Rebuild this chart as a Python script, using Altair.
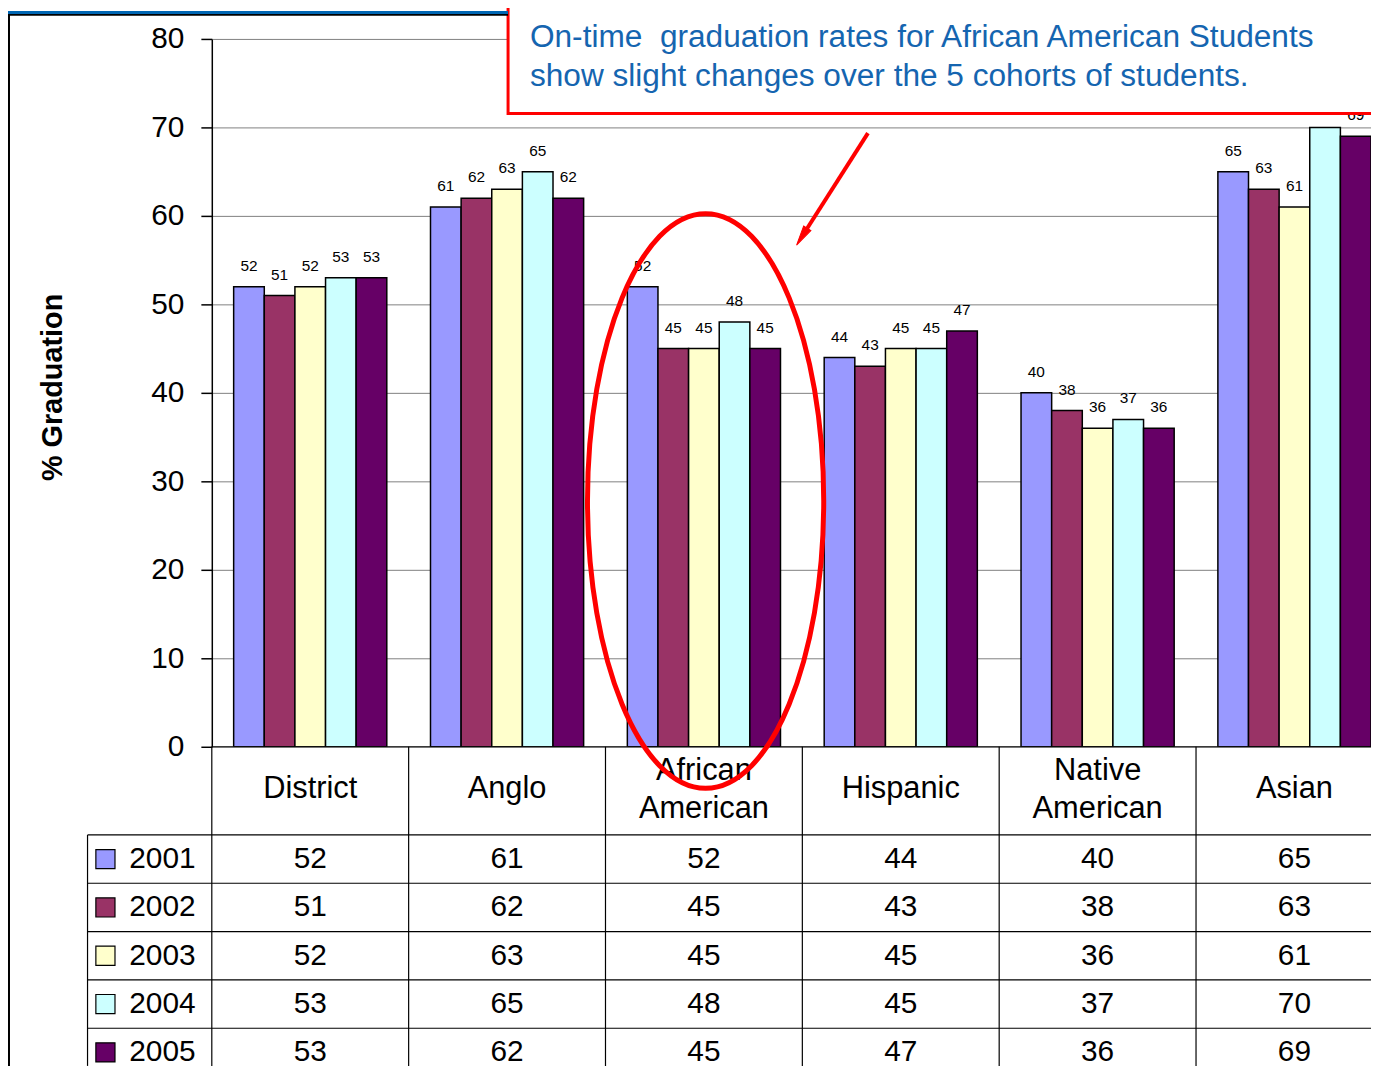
import altair as alt
import pandas as pd

# ---------------- data ----------------
categories = ["District", "Anglo", "African American", "Hispanic", "Native American", "Asian"]
header_labels = ["District", "Anglo", "African\nAmerican", "Hispanic", "Native\nAmerican", "Asian"]
years = ["2001", "2002", "2003", "2004", "2005"]
rates_2001 = [52, 61, 52, 44, 40, 65]
rates_2002 = [51, 62, 45, 43, 38, 63]
rates_2003 = [52, 63, 45, 45, 36, 61]
rates_2004 = [53, 65, 48, 45, 37, 70]
rates_2005 = [53, 62, 45, 47, 36, 69]
year_colors = ["#9999FF", "#993366", "#FFFFCC", "#CCFFFF", "#660066"]
y_ticks = [0, 10, 20, 30, 40, 50, 60, 70, 80]
axis_title = "% Graduation"
note_lines = [
    "On-time\u00a0 graduation rates for African American Students",
    "show slight changes over the 5 cohorts of students.",
]

series = [rates_2001, rates_2002, rates_2003, rates_2004, rates_2005]
rows = []
for yr, vals in zip(years, series):
    for cat, v in zip(categories, vals):
        rows.append({"category": cat, "year": yr, "rate": v})
df = pd.DataFrame(rows)
df_header = pd.DataFrame({"category": categories, "label": header_labels})
one = pd.DataFrame({"k": [0]})

# ---------------- layout ----------------
FONT = "Liberation Sans"
PAD_L, PAD_T, PAD_B = 205, 28, 321
PLOT_W, PLOT_H = 1166, 712
X_SPAN = 1188
STEP = X_SPAN / len(categories)
HEADER_Y = 755
ROW_TOP = 800.7
ROW_H = 48.6
ROW_C = [ROW_TOP + ROW_H * (i + 0.5) for i in range(len(years))]
BOTTOM = PLOT_H + PAD_B

x_enc = alt.X(
    "category:N",
    scale=alt.Scale(domain=categories, range=[0, X_SPAN], paddingInner=0.222, paddingOuter=0.111),
    axis=None,
)
xoff_enc = alt.XOffset("year:N", scale=alt.Scale(domain=years, paddingInner=0, paddingOuter=0))
color_enc = alt.Color("year:N", scale=alt.Scale(domain=years, range=year_colors), legend=None)
y_enc = alt.Y(
    "rate:Q",
    scale=alt.Scale(domain=[0, 80], nice=False, zero=True),
    axis=alt.Axis(
        values=y_ticks,
        title=axis_title,
        titleFont=FONT,
        titleFontSize=29,
        titleFontWeight="bold",
        titleColor="black",
        titleAngle=270,
        titleX=-151,
        titleY=350,
        titleAlign="center",
        titleBaseline="alphabetic",
        labelFont=FONT,
        labelFontSize=30,
        labelColor="black",
        labelPadding=17,
        labelFlush=False,
        tickSize=11,
        tickColor="black",
        tickWidth=1.5,
        domainColor="black",
        domainWidth=1.5,
        grid=True,
        gridColor="#808080",
        gridWidth=1,
    ),
)

layers = []

# bars
layers.append(
    alt.Chart(df).mark_bar(stroke="black", strokeWidth=1.5, clip=True).encode(
        x=x_enc, xOffset=xoff_enc, y=y_enc, color=color_enc
    )
)
# bar value labels
layers.append(
    alt.Chart(df).mark_text(font=FONT, fontSize=15.5, baseline="alphabetic", dy=-16, color="black", clip=True).encode(
        x=x_enc, xOffset=xoff_enc, y=y_enc, text="rate:Q"
    )
)

# table lines
hlines = [(0, PLOT_W, PLOT_H)] + [(-125, PLOT_W, ROW_TOP + ROW_H * i) for i in range(len(years))]
for x1, x2, yy in hlines:
    layers.append(
        alt.Chart(one).mark_rule(color="black", strokeWidth=1.2).encode(
            x=alt.value(x1), x2=alt.value(x2), y=alt.value(yy), y2=alt.value(yy)
        )
    )
vlines = [(-125, ROW_TOP)] + [(STEP * i, PLOT_H) for i in range(len(categories))]
for xx, y1 in vlines:
    layers.append(
        alt.Chart(one).mark_rule(color="black", strokeWidth=1.2).encode(
            x=alt.value(xx), x2=alt.value(xx), y=alt.value(y1), y2=alt.value(BOTTOM)
        )
    )

# header row (one-line and two-line labels)
header = alt.Chart(df_header)
layers.append(
    header.transform_filter("indexof(datum.label, '\\n') < 0").mark_text(
        font=FONT, fontSize=31, baseline="middle", color="black"
    ).encode(x=x_enc, y=alt.value(HEADER_Y), text="label:N")
)
layers.append(
    header.transform_filter("indexof(datum.label, '\\n') >= 0").mark_text(
        font=FONT, fontSize=31, baseline="middle", lineBreak="\n", lineHeight=38.3, color="black"
    ).encode(x=x_enc, y=alt.value(HEADER_Y - 19), text="label:N")
)

# data rows with legend keys
for i, yr in enumerate(years):
    sub = alt.Chart(df).transform_filter(alt.datum.year == yr)
    layers.append(
        sub.mark_text(font=FONT, fontSize=30, baseline="middle", color="black").encode(
            x=x_enc, y=alt.value(ROW_C[i]), text="rate:Q"
        )
    )
    key = alt.Chart(pd.DataFrame({"year": [yr]}))
    layers.append(
        key.mark_point(shape="square", filled=True, size=370, stroke="black", strokeWidth=1.2, opacity=1).encode(
            x=alt.value(-107), y=alt.value(ROW_C[i]), color=color_enc
        )
    )
    layers.append(
        key.mark_text(font=FONT, fontSize=30, align="left", baseline="middle", color="black").encode(
            x=alt.value(-83), y=alt.value(ROW_C[i]), text="year:N"
        )
    )

# ellipse highlight
ELLIPSE = (
    "M 0 -1 C 0.2271 -1 0.4111 -0.5523 0.4111 0 C 0.4111 0.5523 0.2271 1 0 1 "
    "C -0.2271 1 -0.4111 0.5523 -0.4111 0 C -0.4111 -0.5523 -0.2271 -1 0 -1 Z"
)
layers.append(
    alt.Chart(one).mark_point(
        shape=ELLIPSE, size=578 * 578, filled=False, stroke="#FF0000", strokeWidth=5, opacity=1
    ).encode(x=alt.value(496.7), y=alt.value(464.8))
)

# arrow
layers.append(
    alt.Chart(one).mark_rule(color="#FF0000", strokeWidth=4).encode(
        x=alt.value(660), y=alt.value(94.7), x2=alt.value(598.3), y2=alt.value(191.4)
    )
)
ARROW = "M 0 1 L -0.43 -1 L 0.43 -1 Z"
layers.append(
    alt.Chart(one).mark_point(
        shape=ARROW, size=400, filled=True, color="#FF0000", stroke="#FF0000", strokeWidth=1, angle=32.5, opacity=1
    ).encode(x=alt.value(593.6), y=alt.value(198.9))
)

# note box
layers.append(
    alt.Chart(one).mark_rect(fill="white", stroke="#FF0000", strokeWidth=3).encode(
        x=alt.value(298), x2=alt.value(PLOT_W + 4), y=alt.value(-34), y2=alt.value(75)
    )
)
for i, line in enumerate(note_lines):
    layers.append(
        alt.Chart(one).mark_text(
            font=FONT, fontSize=31.8, align="left", baseline="alphabetic", color="#1565B0"
        ).encode(x=alt.value(320), y=alt.value(8.1 + 39.2 * i), text=alt.value(line))
    )

# slide frame pieces
layers.append(
    alt.Chart(one).mark_rect(fill="#0066B3", strokeWidth=0).encode(
        x=alt.value(-PAD_L), x2=alt.value(298), y=alt.value(-PAD_T), y2=alt.value(-25.2)
    )
)
layers.append(
    alt.Chart(one).mark_rect(fill="black", strokeWidth=0).encode(
        x=alt.value(-PAD_L), x2=alt.value(298), y=alt.value(-25.2), y2=alt.value(-23.2)
    )
)
layers.append(
    alt.Chart(one).mark_rect(fill="black", strokeWidth=0).encode(
        x=alt.value(-PAD_L), x2=alt.value(-PAD_L + 2), y=alt.value(-25.2), y2=alt.value(BOTTOM)
    )
)

chart = (
    alt.layer(*layers)
    .properties(
        width=PLOT_W,
        height=PLOT_H,
        autosize=alt.AutoSizeParams(type="none"),
        padding={"left": PAD_L, "top": PAD_T, "right": 0, "bottom": PAD_B},
        background="white",
    )
    .configure(font=FONT)
    .configure_view(strokeWidth=0)
)

chart.save("out.html", embed_options={"renderer": "svg", "actions": False})
